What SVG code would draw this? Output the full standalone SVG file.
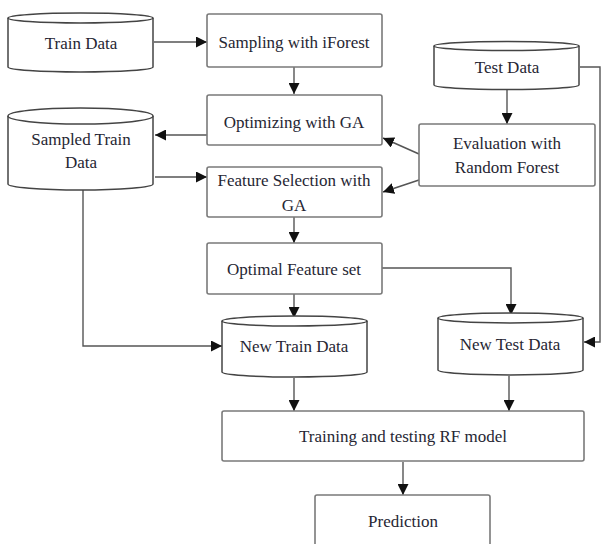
<svg xmlns="http://www.w3.org/2000/svg" width="601" height="544" viewBox="0 0 601 544">
<defs>
<style>
.box{fill:#fff;stroke:#7a7a7a;stroke-width:1.6}
.cyl{fill:#fff;stroke:#444;stroke-width:1.5}
.t{font-family:"Liberation Serif","Times New Roman",serif;font-size:17px;fill:#262633;text-anchor:middle;dominant-baseline:central}
.c{fill:none;stroke:#555;stroke-width:1.4}
</style>
<marker id="ah" viewBox="0 0 10 10" refX="10" refY="5" markerWidth="11" markerHeight="11" markerUnits="userSpaceOnUse" orient="auto">
<path d="M0,0 L10,5 L0,10 Z" fill="#111"/>
</marker>
</defs>
<rect width="601" height="544" fill="#fff"/>
<g id="connectors">
<line class="c" x1="154" y1="42" x2="207" y2="42" marker-end="url(#ah)"/>
<line class="c" x1="294" y1="67" x2="294" y2="94" marker-end="url(#ah)"/>
<line class="c" x1="207" y1="135" x2="155" y2="135" marker-end="url(#ah)"/>
<line class="c" x1="155" y1="177" x2="207" y2="177" marker-end="url(#ah)"/>
<line class="c" x1="294" y1="217" x2="294" y2="243" marker-end="url(#ah)"/>
<line class="c" x1="294" y1="294" x2="294" y2="318" marker-end="url(#ah)"/>
<polyline class="c" points="83,190 83,346 222,346" marker-end="url(#ah)"/>
<polyline class="c" points="382,268 511,268 511,315" marker-end="url(#ah)"/>
<polyline class="c" points="580,67 600,67 600,342 584,342" marker-end="url(#ah)"/>
<line class="c" x1="507" y1="90" x2="507" y2="124" marker-end="url(#ah)"/>
<line class="c" x1="419" y1="154" x2="383" y2="138" marker-end="url(#ah)"/>
<line class="c" x1="419" y1="180" x2="383" y2="192" marker-end="url(#ah)"/>
<line class="c" x1="294" y1="378" x2="294" y2="411" marker-end="url(#ah)"/>
<line class="c" x1="509" y1="376" x2="509" y2="411" marker-end="url(#ah)"/>
<line class="c" x1="403" y1="462" x2="403" y2="495" marker-end="url(#ah)"/>
</g>
<g id="train-data">
<path class="cyl" d="M8,18 A72.5,5 0 0 1 153,18 L153,67 A72.5,5 0 0 1 8,67 Z"/>
<path class="cyl" d="M8,18 A72.5,5 0 0 0 153,18"/>
<text class="t" x="81" y="43">Train Data</text>
</g>
<g id="sampling">
<rect class="box" x="207" y="14" width="175" height="53" rx="2"/>
<text class="t" x="294" y="42">Sampling with iForest</text>
</g>
<g id="test-data">
<path class="cyl" d="M434,46 A72.5,4.5 0 0 1 579,46 L579,85 A72.5,4.5 0 0 1 434,85 Z"/>
<path class="cyl" d="M434,46 A72.5,4.5 0 0 0 579,46"/>
<text class="t" x="507" y="67">Test Data</text>
</g>
<g id="optimizing">
<rect class="box" x="207" y="95" width="175" height="50" rx="2"/>
<text class="t" x="294" y="122">Optimizing with GA</text>
</g>
<g id="sampled-train-data">
<path class="cyl" d="M8,116 A72.5,8 0 0 1 153,116 L153,184 A72.5,6 0 0 1 8,184 Z"/>
<path class="cyl" d="M8,116 A72.5,8 0 0 0 153,116"/>
<text class="t" x="81" y="139">Sampled Train</text>
<text class="t" x="81" y="162">Data</text>
</g>
<g id="evaluation">
<rect class="box" x="419" y="124" width="176" height="62" rx="2"/>
<text class="t" x="507" y="143">Evaluation with</text>
<text class="t" x="507" y="167">Random Forest</text>
</g>
<g id="feature-selection">
<rect class="box" x="207" y="167" width="175" height="50" rx="2"/>
<text class="t" x="294" y="180">Feature Selection with</text>
<text class="t" x="294" y="205">GA</text>
</g>
<g id="optimal-feature-set">
<rect class="box" x="207" y="243" width="175" height="51" rx="2"/>
<text class="t" x="294" y="269">Optimal Feature set</text>
</g>
<g id="new-train-data">
<path class="cyl" d="M222,321 A72.5,5 0 0 1 367,321 L367,372 A72.5,5 0 0 1 222,372 Z"/>
<path class="cyl" d="M222,321 A72.5,5 0 0 0 367,321"/>
<text class="t" x="294" y="346">New Train Data</text>
</g>
<g id="new-test-data">
<path class="cyl" d="M438,318 A72.5,5 0 0 1 583,318 L583,370 A72.5,5 0 0 1 438,370 Z"/>
<path class="cyl" d="M438,318 A72.5,5 0 0 0 583,318"/>
<text class="t" x="510" y="344">New Test Data</text>
</g>
<g id="training">
<rect class="box" x="222" y="411" width="362" height="50" rx="2"/>
<text class="t" x="403" y="436">Training and testing RF model</text>
</g>
<g id="prediction">
<rect class="box" x="315" y="495" width="175" height="55" rx="2"/>
<text class="t" x="403" y="521">Prediction</text>
</g>
</svg>
